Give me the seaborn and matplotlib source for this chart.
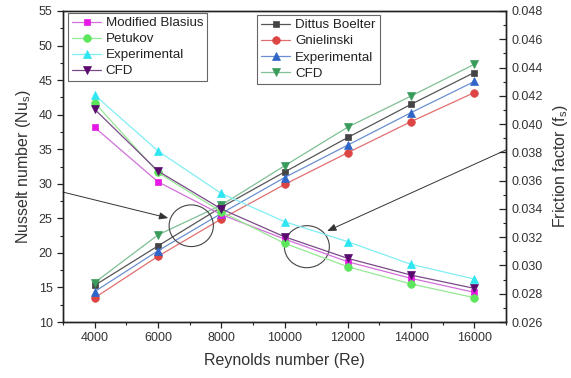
import matplotlib
matplotlib.use("Agg")
import matplotlib.pyplot as plt
from matplotlib.patches import Ellipse
from matplotlib.ticker import MultipleLocator, FormatStrFormatter
import seaborn as sns
import pandas as pd

# Reynolds numbers
reynolds = [4000, 6000, 8000, 10000, 12000, 14000, 16000]

# Nusselt number series (left axis)
nu_dittus_boelter = [15.3, 21.0, 26.6, 31.7, 36.7, 41.5, 46.1]
nu_gnielinski = [13.5, 19.5, 24.9, 29.9, 34.5, 39.0, 43.2]
nu_experimental = [14.4, 20.3, 25.7, 30.9, 35.6, 40.3, 44.8]
nu_cfd = [15.7, 22.6, 26.9, 32.6, 38.2, 42.7, 47.3]

# Friction factor series (right axis)
f_modified_blasius = [0.03977, 0.03592, 0.03360, 0.03187, 0.03026, 0.02909, 0.02810]
f_petukov = [0.04151, 0.03658, 0.03380, 0.03157, 0.02991, 0.02869, 0.02772]
f_experimental = [0.04206, 0.03810, 0.03510, 0.03310, 0.03168, 0.03008, 0.02904]
f_cfd = [0.04105, 0.03668, 0.03400, 0.03203, 0.03050, 0.02932, 0.02838]

sns.set_theme(style="ticks")
plt.rcParams["font.family"] = ["Liberation Sans", "DejaVu Sans"]
plt.rcParams["mathtext.default"] = "regular"
TXT = "#333333"

fig = plt.figure(figsize=(5.71, 3.78), dpi=100)
ax = fig.add_axes([0.1103, 0.1481, 0.7759, 0.8228])
ax2 = ax.twinx()

nu_series = [
    ("Dittus Boelter", nu_dittus_boelter, "s", "#444444", "#555555", 5.0),
    ("Gnielinski", nu_gnielinski, "o", "#DD4444", "#E07070", 5.5),
    ("Experimental", nu_experimental, "^", "#2F64C8", "#6A8FD0", 6.0),
    ("CFD", nu_cfd, "v", "#3A9C5C", "#7FBF95", 6.0),
]
f_series = [
    ("Modified Blasius", f_modified_blasius, "s", "#E619E6", "#D070D8", 5.0),
    ("Petukov", f_petukov, "o", "#5CE65C", "#95E895", 5.5),
    ("Experimental", f_experimental, "^", "#2EE6F2", "#80EEF5", 6.0),
    ("CFD", f_cfd, "v", "#5A0A6E", "#7A4A88", 6.0),
]


def draw(axis, series):
    handles = []
    for name, vals, mk, mc, lc, ms in series:
        df = pd.DataFrame({"Re": reynolds, "val": vals})
        sns.lineplot(data=df, x="Re", y="val", ax=axis, color=lc, lw=0.9,
                     marker=mk, markersize=ms, markerfacecolor=mc,
                     markeredgecolor=mc, markeredgewidth=0.5)
        line = axis.get_lines()[-1]
        line.set_label(name)
        handles.append(line)
    if axis.get_legend() is not None:
        axis.get_legend().remove()
    return handles


h_nu = draw(ax, nu_series)
h_f = draw(ax2, f_series)

ax.set_xlim(3000, 17000)
ax.set_ylim(10, 55)
ax2.set_ylim(0.026, 0.048)
ax.xaxis.set_major_locator(MultipleLocator(2000))
ax.xaxis.set_minor_locator(MultipleLocator(1000))
ax.yaxis.set_major_locator(MultipleLocator(5))
ax.yaxis.set_minor_locator(MultipleLocator(2.5))
ax2.yaxis.set_major_locator(MultipleLocator(0.002))
ax2.yaxis.set_minor_locator(MultipleLocator(0.001))
ax2.yaxis.set_major_formatter(FormatStrFormatter("%.3f"))

for a in (ax, ax2):
    for s in a.spines.values():
        s.set_visible(True)
        s.set_color("#222222")
        s.set_linewidth(1.0)

ax.tick_params(axis="both", which="major", direction="out", length=4.5,
               width=0.9, color="#222222", labelsize=9, labelcolor=TXT, pad=3)
ax.tick_params(axis="both", which="minor", direction="out", length=2.5,
               width=0.8, color="#222222")
ax.tick_params(axis="x", top=False, which="both")
ax2.tick_params(axis="y", which="major", direction="in", length=5,
                width=0.9, color="#222222", labelsize=9, labelcolor=TXT, pad=4)
ax2.tick_params(axis="y", which="minor", direction="in", length=2.5,
                width=0.8, color="#222222")

ax.set_xlabel("Reynolds number (Re)", fontsize=11.5, color=TXT, labelpad=6)
ax.set_ylabel("Nusselt number (Nu$_{s}$)", fontsize=11.5, color=TXT, labelpad=4)
ax2.set_ylabel("Friction factor (f$_{s}$)", fontsize=11.5, color=TXT, labelpad=6)

# highlighted regions with pointers
ax.add_patch(Ellipse((7053, 23.93), 1399, 6.03, fill=False, ec="#444444", lw=0.8, zorder=5))
ax.add_patch(Ellipse((10707, 20.9), 1421, 6.08, fill=False, ec="#444444", lw=0.8, zorder=5))
arrow = dict(arrowstyle="-|>,head_length=0.45,head_width=0.18", lw=0.7,
             color="#333333", shrinkA=0, shrinkB=0)
ax.annotate("", xy=(6327, 25.04), xytext=(3000, 28.8), arrowprops=arrow,
            annotation_clip=False)
ax.annotate("", xy=(11348, 23.16), xytext=(17000, 34.9), arrowprops=arrow,
            annotation_clip=False)

leg_kw = dict(fontsize=9.6, frameon=True, fancybox=False, framealpha=1,
              edgecolor="#666666", borderpad=0.3, labelspacing=0.28,
              handlelength=2.2, handletextpad=0.35, borderaxespad=0,
              loc="upper left")
leg1 = ax2.legend(handles=h_f, bbox_to_anchor=(0.011, 0.994), **leg_kw)
leg1.get_frame().set_linewidth(0.8)
ax2.add_artist(leg1)
leg2 = ax2.legend(handles=h_nu, bbox_to_anchor=(0.438, 0.987), **leg_kw)
leg2.get_frame().set_linewidth(0.8)
for lg in (leg1, leg2):
    for t in lg.get_texts():
        t.set_color("#222222")

fig.savefig("out.png", dpi=100)
